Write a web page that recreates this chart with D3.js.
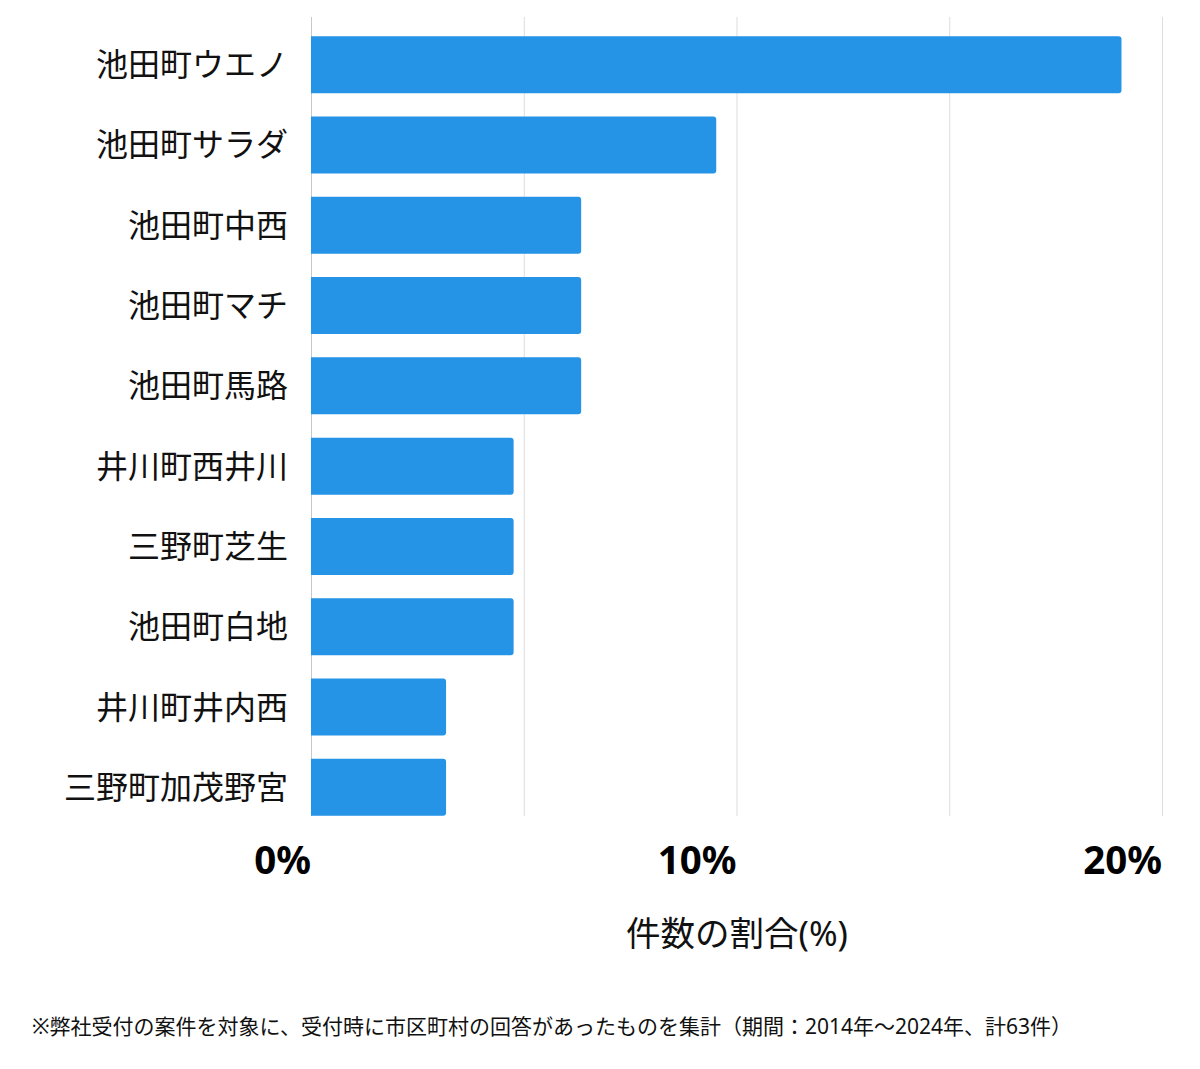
<!DOCTYPE html>
<html>
<head>
<meta charset="utf-8">
<script src="https://cdn.jsdelivr.net/npm/d3@7"></script>
<style>
  body { margin: 0; background: #fff; }
  text { font-family: "Noto Sans", "Noto Sans CJK JP", sans-serif; }
</style>
</head>
<body>
<div id="chart"></div>
<script>
// data: share of cases per area (63 cases total)
var areas = ["池田町ウエノ", "池田町サラダ", "池田町中西", "池田町マチ", "池田町馬路",
             "井川町西井川", "三野町芝生", "池田町白地", "井川町井内西", "三野町加茂野宮"];
var counts = [12, 6, 4, 4, 4, 3, 3, 3, 2, 2];
var total = 63;
var tickValues = [0, 10, 20];
var gridValues = [0, 5, 10, 15, 20];

var svgWidth = 1200;
var svgHeight = 1069;

var svg = d3.select("#chart")
  .append("svg")
  .attr("width", svgWidth)
  .attr("height", svgHeight);

var x = d3.scaleLinear()
  .domain([0, 20])
  .range([311, 1162]);

var y = d3.scaleBand()
  .domain(areas)
  .range([24.5, 827.5])
  .paddingInner(0.29)
  .paddingOuter(0.145);

// grid lines
svg.append("g")
  .selectAll("line")
  .data(gridValues)
  .enter()
  .append("line")
  .attr("x1", d => x(d) + 0.5)
  .attr("x2", d => x(d) + 0.5)
  .attr("y1", 17)
  .attr("y2", 816)
  .attr("stroke", d => d === 0 ? "#c8c8c8" : "#dddddd")
  .attr("stroke-width", 1);

// bars
svg.append("g")
  .selectAll("path")
  .data(areas)
  .enter()
  .append("path")
  .attr("fill", "#2593e6")
  .attr("d", function(d, i) {
    var x0 = x(0), x1 = x(counts[i] / total * 100);
    var y0 = y(d), h = y.bandwidth(), r = 3;
    return "M" + x0 + "," + y0 +
      "H" + (x1 - r) + "Q" + x1 + "," + y0 + " " + x1 + "," + (y0 + r) +
      "V" + (y0 + h - r) + "Q" + x1 + "," + (y0 + h) + " " + (x1 - r) + "," + (y0 + h) +
      "H" + x0 + "Z";
  });

// category labels
svg.append("g")
  .selectAll("text")
  .data(areas)
  .enter()
  .append("text")
  .attr("x", 288)
  .attr("y", d => y(d) + y.bandwidth() / 2)
  .attr("dy", "0.36em")
  .attr("text-anchor", "end")
  .attr("font-size", 32)
  .attr("fill", "#111")
  .text(d => d);

// x tick labels
svg.append("g")
  .selectAll("text")
  .data(tickValues)
  .enter()
  .append("text")
  .attr("x", d => x(d))
  .attr("y", 874)
  .attr("text-anchor", "end")
  .attr("font-size", 38.5)
  .attr("font-weight", "bold")
  .attr("fill", "#000")
  .text(d => d + "%");

// axis title
svg.append("text")
  .attr("x", 737)
  .attr("y", 946)
  .attr("text-anchor", "middle")
  .attr("font-size", 34.5)
  .attr("fill", "#111")
  .text("件数の割合(%)");

// footnote
svg.append("text")
  .attr("x", 32)
  .attr("y", 1034)
  .attr("font-size", 21)
  .attr("fill", "#111")
  .text("※弊社受付の案件を対象に、受付時に市区町村の回答があったものを集計（期間：2014年〜2024年、計63件）");
</script>
</body>
</html>
